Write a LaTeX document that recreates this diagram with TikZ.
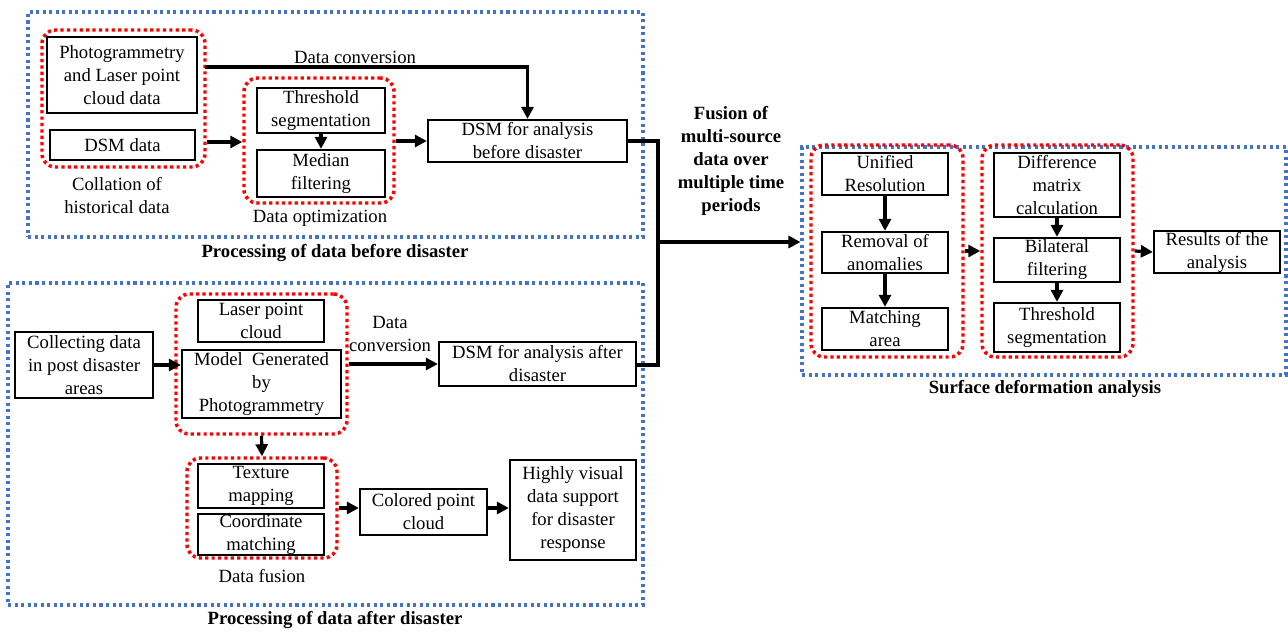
\documentclass[tikz,border=0pt]{standalone}
\usepackage{fontspec}
\setmainfont{Liberation Serif}
\usetikzlibrary{arrows.meta}
\definecolor{dotblue}{RGB}{68,114,196}
\definecolor{dotred}{RGB}{255,0,0}
\begin{document}
\begin{tikzpicture}[x=0.75pt,y=-0.75pt,
  every node/.style={font=\fontsize{14}{17.25}\selectfont, align=center, inner sep=0pt},
  box/.style={draw, line width=1.7pt},
  sz/.style 2 args={minimum width=#1*0.75pt, minimum height=#2*0.75pt},
  grp/.style={draw=dotred, line width=2.6pt, dash pattern=on 2.4pt off 2.4pt, rounded corners=10pt},
  bluebox/.style={draw=dotblue, line width=2.3pt, dash pattern=on 2.3pt off 2.6pt},
  arr/.style={line width=2.4pt, -{Triangle[length=9pt,width=9pt]}},
  ln/.style={line width=2.4pt},
  ttl/.style={font=\fontsize{14}{17.25}\selectfont\bfseries}
]
\useasboundingbox (0,0) rectangle (1288,632);

% ---------- blue outer boxes
\node[bluebox, sz={615}{225}] (topbox) at (335.5,124.5) {};
\node[bluebox, sz={635}{322}] (botbox) at (325.5,444) {};
\node[bluebox, sz={484}{228}] (surf) at (1044,261) {};
\node[ttl] (ttop) at (335,253) {Processing of data before disaster};
\node[ttl] (tbot) at (335,620) {Processing of data after disaster};
\node[ttl] (tsurf) at (1045,389) {Surface deformation analysis};
\node[ttl] (tfus) at (731,161) {Fusion of\\multi-source\\data over\\multiple time\\periods};

% ---------- red groups
\node[grp, sz={163}{137}] (redA) at (123.5,98.5) {};
\node[grp, sz={150}{125}] (redB) at (319,140.5) {};
\node[grp, sz={171}{140}] (redC) at (261.5,364) {};
\node[grp, sz={150}{100}] (redD) at (262,508) {};
\node[grp, sz={152}{212}] (redE) at (887,251) {};
\node[grp, sz={151}{212}] (redF) at (1057.5,251) {};

% ---------- boxes: before disaster
\node[box, sz={150}{76}] (photo) at (122,75) {Photogrammetry\\and Laser point\\cloud data};
\node[box, sz={145}{30}] (dsmdata) at (122.5,145) {DSM data};
\node[box, sz={128}{45}] (thr1) at (321,110.5) {Threshold\\segmentation};
\node[box, sz={128}{47}] (median) at (321,173.5) {Median\\filtering};
\node[box, sz={199}{42}] (dsmb) at (527.5,141) {DSM for analysis\\before disaster};
\node (lcoll) at (117,196) {Collation of\\historical data};
\node (lopt) at (320,218) {Data optimization};
\node (lconv1) at (355,57) {Data conversion};

% ---------- boxes: after disaster
\node[box, sz={138}{66}] (collect) at (84,365) {Collecting data\\in post disaster\\areas};
\node[box, sz={126}{42}] (laser) at (261,321) {Laser point\\cloud};
\node[box, sz={159}{68}] (model) at (261.5,384) {Model\ \ Generated\\by\\Photogrammetry};
\node[box, sz={197}{44}] (dsma) at (537.5,364) {DSM for analysis after\\disaster};
\node[box, sz={126}{44}] (texture) at (261,486) {Texture\\mapping};
\node[box, sz={126}{41}] (coord) at (261,534.5) {Coordinate\\matching};
\node[box, sz={127}{46}] (colored) at (423.5,512) {Colored point\\cloud};
\node[box, sz={126}{100}] (highly) at (573,510) {Highly visual\\data support\\for disaster\\response};
\node (lconv2) at (390,334) {Data\\conversion};
\node (lfus) at (262,576) {Data fusion};

% ---------- boxes: surface deformation
\node[box, sz={126}{42}] (unified) at (885,174) {Unified\\Resolution};
\node[box, sz={126}{41}] (removal) at (885,252.5) {Removal of\\anomalies};
\node[box, sz={126}{42}] (matching) at (885,329) {Matching\\area};
\node[box, sz={126}{64}] (diff) at (1057,185) {Difference\\matrix\\calculation};
\node[box, sz={126}{44}] (bilat) at (1057,260) {Bilateral\\filtering};
\node[box, sz={126}{49}] (thr2) at (1057,327.5) {Threshold\\segmentation};
\node[box, sz={126}{42}] (results) at (1217,252) {Results of the\\analysis};

% ---------- connectors: before
\coordinate (c1) at (205,67);
\draw[arr] (c1) -| (dsmb.north);
\coordinate (c2) at (207,142);
\draw[arr] (c2) -- (c2 -| redB.west);
\draw[arr] (redB.east |- dsmb.west) -- (dsmb.west);
\draw[arr] (thr1.south) -- (median.north);

% ---------- fusion trunk
\coordinate (tk) at (658,141);
\coordinate (tb) at (658,365);
\coordinate (tm) at (658,242);
\draw[ln] (dsmb.east) -- (tk) -- (tb) -- (dsma.east |- tb);
\draw[arr] (tm) -- (tm -| surf.west);

% ---------- connectors: after
\draw[arr] (collect.east) -- (collect.east -| model.west);
\draw[arr] (redC.east) -- (dsma.west);
\draw[arr] (redC.south) -- (redD.north);
\draw[arr] (redD.east) -- (redD.east -| colored.west);
\draw[arr] (colored.east |- redD.east) -- (redD.east -| highly.west);

% ---------- connectors: surface
\draw[arr] (unified.south) -- (removal.north);
\draw[arr] (removal.south) -- (matching.north);
\draw[arr] (diff.south) -- (bilat.north);
\draw[arr] (bilat.south) -- (thr2.north);
\draw[arr] (redE.east) -- (redF.west);
\draw[arr] (redF.east) -- (results.west);
\end{tikzpicture}
\end{document}
